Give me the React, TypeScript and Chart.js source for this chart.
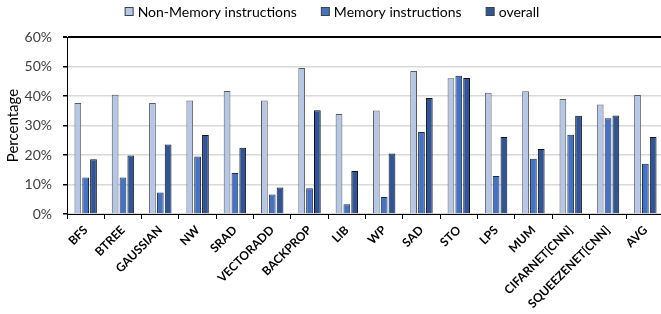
import React, { useEffect, useRef } from "react";
import { Chart, registerables } from "chart.js";

Chart.register(...registerables);

const categories = [
  "BFS", "BTREE", "GAUSSIAN", "NW", "SRAD", "VECTORADD", "BACKPROP", "LIB",
  "WP", "SAD", "STO", "LPS", "MUM", "CIFARNET[CNN]", "SQUEEZENET[CNN]", "AVG",
];
const nonMemory = [37.6, 40.4, 37.6, 38.5, 41.7, 38.5, 49.5, 33.9, 35.1, 48.5, 46.0, 41.1, 41.6, 39.0, 37.1, 40.3];
const memory = [12.4, 12.4, 7.3, 19.5, 13.9, 6.6, 8.7, 3.3, 5.8, 27.8, 46.9, 12.9, 18.7, 26.9, 32.5, 17.0];
const overall = [18.6, 19.8, 23.6, 26.8, 22.5, 9.0, 35.2, 14.6, 20.5, 39.3, 46.1, 26.1, 22.0, 33.3, 33.4, 26.1];
const seriesNames = ["Non-Memory instructions", "Memory instructions", "overall"];
const yTicks = [0, 10, 20, 30, 40, 50, 60];

const FONT = "Lato, 'Open Sans', sans-serif";

const legendPlugin = {
  id: "customLegend",
  afterDraw(chart: any) {
    const ctx = chart.ctx;
    ctx.save();
    ctx.font = `14px ${FONT}`;
    const box = 8;
    const gap = 5;
    const itemGap = 24;
    const items = chart.data.datasets.map((d: any) => ({
      text: d.label,
      fill: d.backgroundColor,
      w: ctx.measureText(d.label).width,
    }));
    const total = items.reduce((s: number, it: any) => s + box + gap + it.w, 0) + itemGap * (items.length - 1);
    let x = chart.width / 2 - total / 2;
    const cy = 11;
    ctx.textBaseline = "middle";
    ctx.textAlign = "left";
    for (const it of items) {
      ctx.fillStyle = it.fill;
      ctx.fillRect(x + 0.5, cy - box / 2 + 0.5, box, box);
      ctx.strokeStyle = "#404040";
      ctx.lineWidth = 1;
      ctx.strokeRect(x + 0.5, cy - box / 2 + 0.5, box, box);
      ctx.fillStyle = "#000";
      ctx.fillText(it.text, x + box + gap, cy + 1);
      x += box + gap + it.w + itemGap;
    }
    ctx.restore();
  },
};

export default function App() {
  const ref = useRef<HTMLCanvasElement>(null);
  useEffect(() => {
    if (!ref.current) return;
    const chart = new Chart(ref.current, {
      type: "bar",
      data: {
        labels: categories,
        datasets: [
          { label: seriesNames[0], data: nonMemory, backgroundColor: "#b4c7e7", borderColor: "#595959", borderWidth: 1 },
          { label: seriesNames[1], data: memory, backgroundColor: "#4472c4", borderColor: "#1f2a44", borderWidth: 1 },
          { label: seriesNames[2], data: overall, backgroundColor: "#2f5597", borderColor: "#111", borderWidth: 1 },
        ],
      },
      options: {
        animation: false,
        responsive: false,
        maintainAspectRatio: false,
        layout: { padding: { top: 37, left: 0, right: 0, bottom: 0 } },
        datasets: { bar: { categoryPercentage: 0.63, barPercentage: 0.86 } },
        plugins: { legend: { display: false }, tooltip: { enabled: false } },
        scales: {
          x: {
            afterFit: (s: any) => { s.height = 100; },
            grid: { display: true, drawOnChartArea: false, drawTicks: true, tickLength: 5, color: "#000", tickColor: "#000" },
            border: { display: true, color: "#000", width: 1 },
            ticks: {
              autoSkip: false,
              minRotation: 45,
              maxRotation: 45,
              padding: 4,
              color: "#000",
              font: { family: FONT, size: 12, weight: "bold" },
            },
          },
          y: {
            min: 0,
            max: 60,
            afterFit: (s: any) => { s.width = 67; },
            afterBuildTicks: (s: any) => { s.ticks = yTicks.map((v) => ({ value: v })); },
            grid: {
              color: (c: any) => (c.tick && c.tick.value === 60 ? "#000" : "#d9d9d9"),
              lineWidth: (c: any) => (c.tick && c.tick.value === 60 ? 2 : 1.5),
              tickLength: 4,
              tickColor: "#000",
            },
            border: { display: true, color: "#000", width: 1 },
            ticks: {
              padding: 11,
              color: "#404040",
              font: { family: FONT, size: 14 },
              callback: (v: any) => `${v}%`,
            },
            title: {
              display: true,
              text: "Percentage",
              color: "#000",
              padding: { top: 4, bottom: 0 },
              font: { family: FONT, size: 15 },
            },
          },
        },
      },
      plugins: [legendPlugin],
    });
    return () => chart.destroy();
  }, []);
  return (
    <div style={{ position: "fixed", left: 0, top: 0, width: 661, height: 314, overflow: "hidden", background: "#fff" }}>
      <canvas ref={ref} width={664} height={314} style={{ display: "block" }} />
    </div>
  );
}
